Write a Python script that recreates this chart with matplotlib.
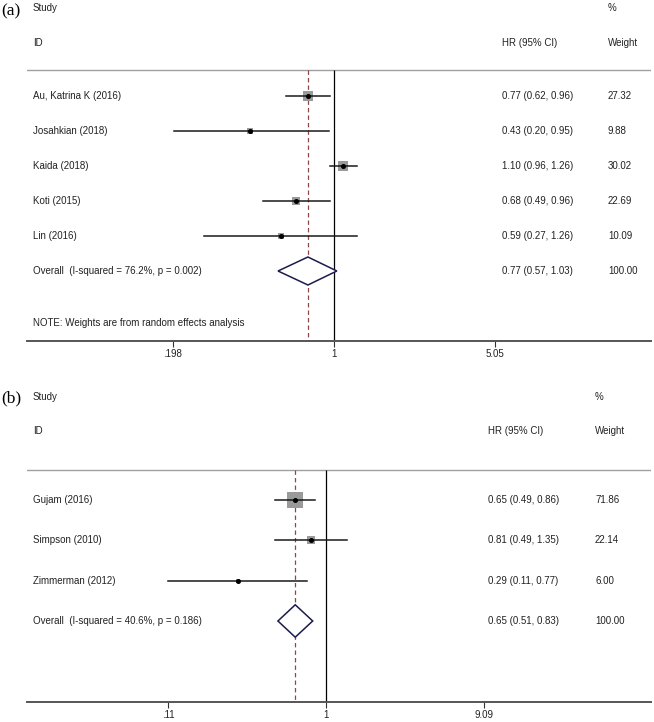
import numpy as np
import matplotlib
matplotlib.use("Agg")
import matplotlib.pyplot as plt
from matplotlib import transforms

plt.rcParams["font.family"] = ["Liberation Sans", "DejaVu Sans"]

# -------------------------
# DATA
# -------------------------

a_studies = ["Au, Katrina K (2016)", "Josahkian (2018)", "Kaida (2018)", "Koti (2015)", "Lin (2016)"]
a_hr = [0.77, 0.43, 1.10, 0.68, 0.59]
a_lo = [0.62, 0.20, 0.96, 0.49, 0.27]
a_hi = [0.96, 0.95, 1.26, 0.96, 1.26]
a_weight = [27.32, 9.88, 30.02, 22.69, 10.09]
a_overall = (0.77, 0.57, 1.03)
a_overall_label = "Overall  (I-squared = 76.2%, p = 0.002)"
a_ticks = [0.198, 1, 5.05]
a_ticklabels = [".198", "1", "5.05"]

b_studies = ["Gujam (2016)", "Simpson (2010)", "Zimmerman (2012)"]
b_hr = [0.65, 0.81, 0.29]
b_lo = [0.49, 0.49, 0.11]
b_hi = [0.86, 1.35, 0.77]
b_weight = [71.86, 22.14, 6.00]
b_overall = (0.65, 0.51, 0.83)
b_overall_label = "Overall  (I-squared = 40.6%, p = 0.186)"
b_ticks = [0.11, 1, 9.09]
b_ticklabels = [".11", "1", "9.09"]

W, H = 654, 722
FS = 7
TXT = "#222222"


def fx(px):
    return px / W


def fy(px):
    return 1 - px / H


def forest(fig, rect, xlim, ylim, studies, hr, lo, hi, weight, overall, overall_label,
           ticks, ticklabels, cols, header_y, line_y, note=None, box_k=1.8):
    ax = fig.add_axes(rect)
    ax.set_xscale("log")
    ax.set_xlim(*xlim)
    ax.set_ylim(*ylim)
    tr = transforms.blended_transform_factory(fig.transFigure, ax.transData)
    name_x, hr_x, w_x = cols
    n = len(studies)
    axis_y = ylim[0]
    kw = dict(transform=tr, fontsize=FS, va="center", color=TXT)

    # headers
    ax.text(fx(name_x), header_y[0], "Study", **kw)
    ax.text(fx(name_x), header_y[1], "ID", **kw)
    ax.text(fx(hr_x), header_y[1], "HR (95% CI)", **kw)
    ax.text(fx(w_x), header_y[0], "%", **kw)
    ax.text(fx(w_x), header_y[1], "Weight", **kw)
    ax.axhline(line_y, color="#a0a0a0", lw=1.0)

    # reference lines
    ax.vlines(1, line_y, axis_y, color="black", lw=0.9)
    ax.vlines(overall[0], line_y, axis_y, color="#8e4545", lw=0.9,
              linestyles=(0, (3.5, 2.5)))

    for i in range(n):
        side = box_k * np.sqrt(weight[i]) * 0.72
        ax.scatter(hr[i], i, marker="s", s=side ** 2, color="#9a9a9a", lw=0, zorder=2)
        ax.plot([lo[i], hi[i]], [i, i], color="#1a1a1a", lw=1.1, zorder=3)
        ax.plot(hr[i], i, marker="o", ms=2.6, color="black", zorder=4)
        ax.text(fx(name_x), i, studies[i], **kw)
        ax.text(fx(hr_x), i, f"{hr[i]:.2f} ({lo[i]:.2f}, {hi[i]:.2f})", **kw)
        ax.text(fx(w_x), i, f"{weight[i]:.2f}", **kw)

    # overall diamond
    est, olo, ohi = overall
    ax.fill([olo, est, ohi, est, olo], [n, n - 0.4, n, n + 0.4, n],
            facecolor="white", edgecolor="#1b1b4d", lw=1.1, zorder=3)
    ax.text(fx(name_x), n, overall_label, **kw)
    ax.text(fx(hr_x), n, f"{est:.2f} ({olo:.2f}, {ohi:.2f})", **kw)
    ax.text(fx(w_x), n, "100.00", **kw)
    if note:
        ax.text(fx(name_x), n + 1.5, note, **kw)

    for s in ["top", "left", "right"]:
        ax.spines[s].set_visible(False)
    ax.spines["bottom"].set_color("#555555")
    ax.spines["bottom"].set_linewidth(1.4)
    ax.set_yticks([])
    ax.set_xticks(ticks)
    ax.set_xticklabels(ticklabels, fontsize=FS, color=TXT)
    ax.minorticks_off()
    ax.tick_params(axis="x", length=4, width=0.8, color="#333333", pad=2)
    ax.patch.set_alpha(0)
    return ax


fig = plt.figure(figsize=(W / 100, H / 100), dpi=100)

# panel (a): axis line at y=341 px, 35 px per row, x from 27 to 651 px
top_a = 341 - 9.74 * 35
forest(fig, [fx(27), fy(341), (651 - 27) / W, (341 - top_a) / H],
       (0.0456, 24.3), (7, -2.74),
       a_studies, a_hr, a_lo, a_hi, a_weight, a_overall, a_overall_label,
       a_ticks, a_ticklabels, (33, 502, 608), (-2.51, -1.51), -0.74,
       note="NOTE: Weights are from random effects analysis", box_k=1.75)

# panel (b): axis line at y=702 px, 40.5 px per row
top_b = 702 - 7.96 * 40.5
forest(fig, [fx(27), fy(702), (651 - 27) / W, (702 - top_b) / H],
       (0.01518, 94.8), (5, -2.96),
       b_studies, b_hr, b_lo, b_hi, b_weight, b_overall, b_overall_label,
       b_ticks, b_ticklabels, (33, 488, 595), (-2.54, -1.68), -0.74, box_k=1.89)

fig.text(fx(1), fy(11), "(a)", family=["Liberation Serif"], fontsize=12.5, va="center")
fig.text(fx(1), fy(398), "(b)", family=["Liberation Serif"], fontsize=12.5, va="center")

fig.savefig("out.png", dpi=100, facecolor="white")
